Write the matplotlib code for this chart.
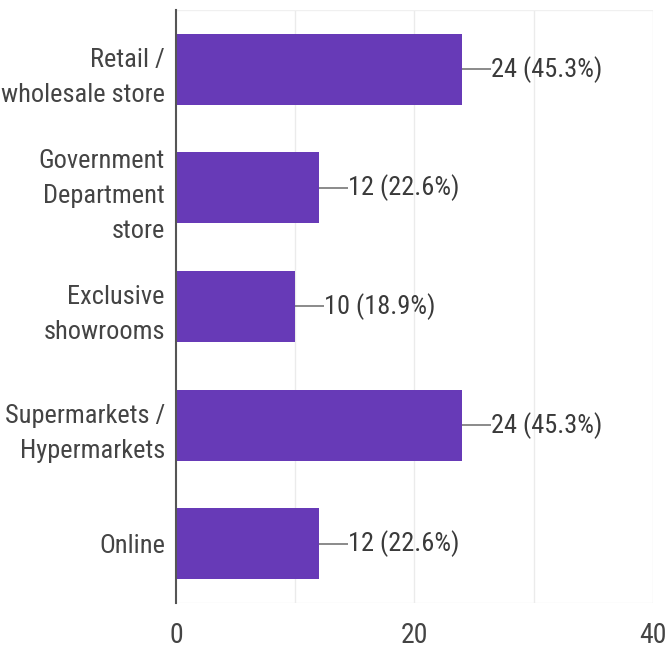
import matplotlib
matplotlib.use("Agg")
import matplotlib.pyplot as plt

categories = [
    "Retail /\nwholesale store",
    "Government\nDepartment\nstore",
    "Exclusive\nshowrooms",
    "Supermarkets /\nHypermarkets",
    "Online",
]
counts = [24, 12, 10, 24, 12]
percents = [45.3, 22.6, 18.9, 45.3, 22.6]
xticks = [0, 20, 40]

FAMILY = ["Roboto Condensed", "Roboto", "DejaVu Sans"]
BAR_COLOR = "#673ab7"
TEXT_COLOR = "#444444"
FS = 19

fig = plt.figure(figsize=(6.68, 6.49), dpi=100)
ax = fig.add_axes([0.2635, 0.0709, 0.714, 0.9137])

ypos = list(range(len(categories)))
ax.barh(ypos, counts, height=0.6, color=BAR_COLOR, zorder=3)
ax.set_ylim(len(categories) - 0.5, -0.5)
ax.set_xlim(0, 40)

# light vertical gridlines every 10 units
for gx in [10, 20, 30, 40]:
    ax.axvline(gx, color="#ebebeb", lw=1, zorder=1)
ax.axhline(-0.5, color="#f0f0f0", lw=1, zorder=1)
ax.axhline(len(categories) - 0.5, color="#f0f0f0", lw=1, zorder=1)

# value labels with a short leader line
lead = 2.4
for y, c, p in zip(ypos, counts, percents):
    ax.plot([c, c + lead], [y, y], color="#777777", lw=1.2, zorder=4,
            solid_capstyle="butt")
    ax.text(c + lead, y, f"{c} ({p}%)", va="center", ha="left",
            fontsize=FS, color="#3a3a3a", family=FAMILY, zorder=5)

ax.set_yticks(ypos)
ax.set_yticklabels(categories, fontsize=FS, color=TEXT_COLOR, family=FAMILY,
                   linespacing=1.6)
ax.set_xticks(xticks)
ax.set_xticklabels([str(t) for t in xticks], fontsize=20, color=TEXT_COLOR,
                   family=FAMILY)
ax.tick_params(axis="both", length=0)
ax.tick_params(axis="y", pad=8)
ax.tick_params(axis="x", pad=14)

for side in ["top", "right", "bottom"]:
    ax.spines[side].set_visible(False)
ax.spines["left"].set_color("#555555")
ax.spines["left"].set_linewidth(1.5)
ax.spines["left"].set_zorder(6)

fig.savefig("out.png", dpi=100, facecolor="white")
